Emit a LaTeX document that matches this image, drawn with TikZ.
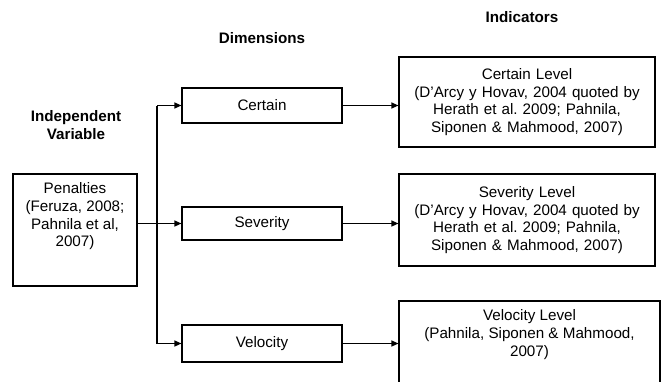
\documentclass[tikz,border=0pt]{standalone}
\usepackage{fontspec}
\setmainfont{Liberation Sans}
\usetikzlibrary{positioning,arrows.meta}

\tikzset{
  box/.style={draw, line width=1.1pt, align=center, inner sep=2pt},
  dimbox/.style={box, minimum width=160pt},
  lvlbox/.style={box, minimum width=256pt, text width=252pt},
  heading/.style={font=\bfseries, align=center},
  arrow/.style={-{Triangle[length=7pt,width=6pt]}, line width=1.1pt}
}

\begin{document}
\frenchspacing
\fontsize{15.2}{17.7}\selectfont
\begin{tikzpicture}[x=1pt, y=1pt]
\clip (0,0) rectangle (663,381);

% Headings
\node[heading] (indicators) at (522,364) {Indicators};
\node[heading] (dimensions) at (262,343) {Dimensions};
\node[heading] (indep) at (76,256) {Independent\\Variable};

% Independent variable
\node[box, minimum width=124pt, minimum height=112pt] (pen) at (75,151) {};
\node[below=4pt of pen.north, align=center] (pentext)
  {Penalties\\(Feruza, 2008;\\Pahnila et al,\\2007)};

% Dimensions
\node[dimbox, minimum height=35pt] (cert) at (262,275.5) {Certain};
\node[dimbox, minimum height=33pt] (sev) at (262,157.5) {Severity};
\node[dimbox, minimum height=37pt] (vel) at (262,37.5) {Velocity};

% Indicators
\node[lvlbox, minimum height=90pt] (certlvl) at (527,279)
  {Certain Level\\(D'Arcy y Hovav, 2004 quoted by\\Herath et al. 2009; Pahnila,\\Siponen \& Mahmood, 2007)};
\node[lvlbox, minimum height=92pt] (sevlvl) at (527,161)
  {Severity Level\\(D'Arcy y Hovav, 2004 quoted by\\Herath et al. 2009; Pahnila,\\Siponen \& Mahmood, 2007)};
\node[box, minimum width=261pt, minimum height=110pt] (vellvl) at (529.5,25) {};
\node[below=4pt of vellvl.north, align=center] (velltext)
  {Velocity Level\\(Pahnila, Siponen \& Mahmood,\\2007)};

% Connectors
\coordinate (fork) at (157,157);
\draw[arrow] (pen.east |- sev.west) -- (sev.west);
\draw[line width=1.1pt] (fork |- cert.west) -- (fork |- vel.west);
\draw[arrow] (fork |- cert.west) -- (cert.west);
\draw[arrow] (fork |- vel.west) -- (vel.west);
\draw[arrow] (cert.east) -- (cert.east -| certlvl.west);
\draw[arrow] (sev.east) -- (sev.east -| sevlvl.west);
\draw[arrow] (vel.east) -- (vel.east -| vellvl.west);

\end{tikzpicture}
\end{document}
